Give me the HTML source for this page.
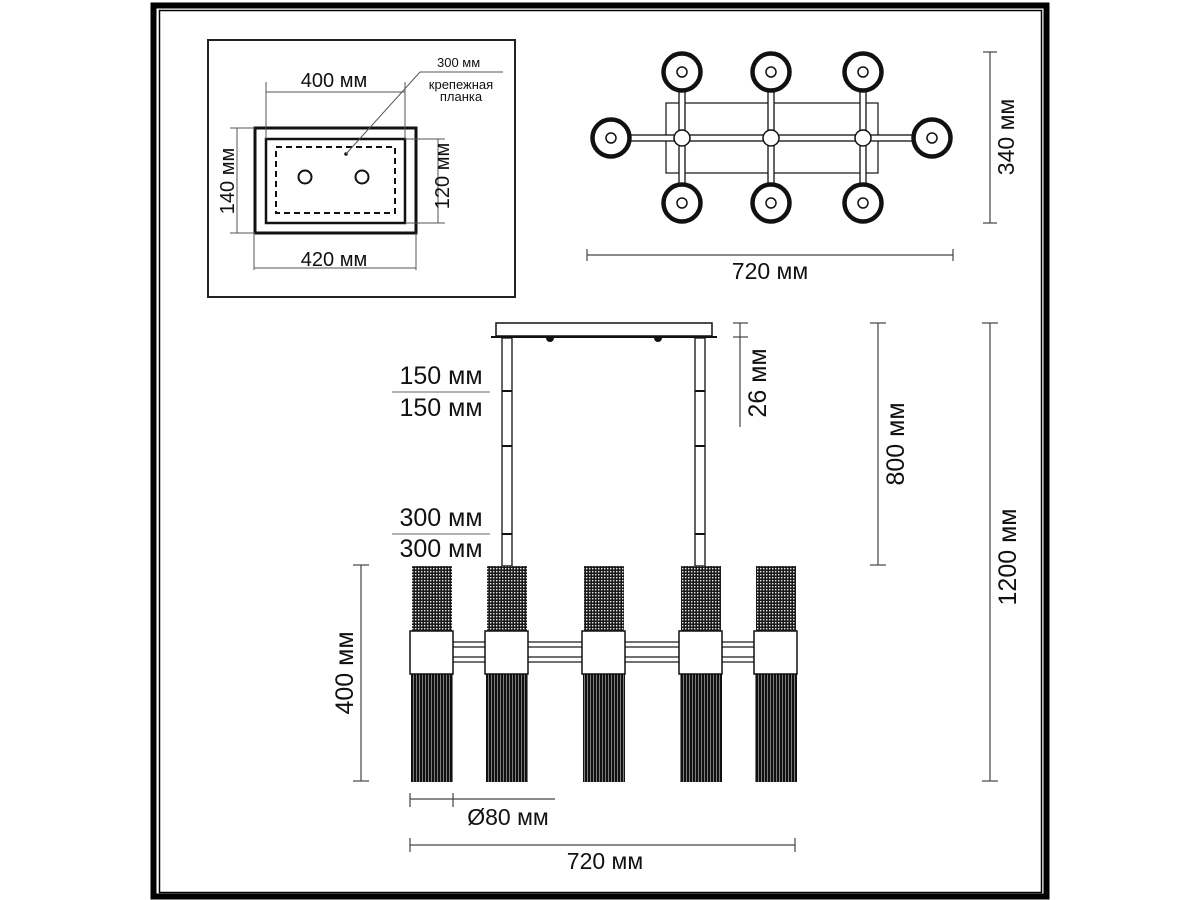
<!DOCTYPE html>
<html><head><meta charset="utf-8"><style>
html,body{margin:0;padding:0;background:#fff}
svg{display:block}
text{font-family:"Liberation Sans",sans-serif;fill:#111}
</style></head><body>
<svg width="1200" height="900" viewBox="0 0 1200 900" xmlns="http://www.w3.org/2000/svg">
<defs>
<pattern id="mesh" width="3" height="3" patternUnits="userSpaceOnUse">
<rect width="3" height="3" fill="#1a1a1a"/><rect x="1" y="1" width="1.4" height="1.4" fill="#e8e8e8"/>
</pattern>
<pattern id="tas" width="3" height="10" patternUnits="userSpaceOnUse">
<rect width="3" height="10" fill="#111"/><rect x="2" width="0.7" height="10" fill="#aaa"/>
</pattern>
</defs>
<!-- frame -->
<rect x="153.5" y="5.5" width="893" height="891" fill="none" stroke="#000" stroke-width="6"/>
<rect x="159.5" y="10.5" width="882" height="882" fill="none" stroke="#000" stroke-width="1.5"/>

<!-- top-left box -->
<rect x="208" y="40" width="307" height="257" fill="none" stroke="#222" stroke-width="2"/>
<rect x="255" y="128" width="161" height="105" fill="none" stroke="#111" stroke-width="3"/>
<rect x="266" y="139" width="139" height="84" fill="none" stroke="#111" stroke-width="2.5"/>
<rect x="276" y="147" width="119" height="66" fill="none" stroke="#111" stroke-width="2" stroke-dasharray="6,4"/>
<circle cx="305" cy="177" r="6.5" fill="none" stroke="#111" stroke-width="2"/>
<circle cx="362" cy="177" r="6.5" fill="none" stroke="#111" stroke-width="2"/>
<circle cx="346" cy="154" r="1.8" fill="#111"/>
<g stroke="#555" stroke-width="1" fill="none">
<polyline points="346,154 420,72 503,72"/>
<line x1="266" y1="82" x2="266" y2="139"/><line x1="405" y1="82" x2="405" y2="139"/>
<line x1="266" y1="92" x2="405" y2="92"/>
<line x1="254" y1="233" x2="254" y2="270"/><line x1="416" y1="233" x2="416" y2="270"/>
<line x1="254" y1="268" x2="416" y2="268"/>
<line x1="230" y1="128" x2="255" y2="128"/><line x1="230" y1="233" x2="255" y2="233"/>
<line x1="237" y1="128" x2="237" y2="233"/>
<line x1="405" y1="139" x2="445" y2="139"/><line x1="405" y1="223" x2="445" y2="223"/>
<line x1="438" y1="139" x2="438" y2="223"/>
</g>
<text x="437" y="67" font-size="13">300 мм</text>
<text x="461" y="89" font-size="13" text-anchor="middle">крепежная</text>
<text x="461" y="101" font-size="13" text-anchor="middle">планка</text>
<text x="334" y="87" font-size="20" text-anchor="middle">400 мм</text>
<text x="334" y="266" font-size="20" text-anchor="middle">420 мм</text>
<text transform="translate(234,181) rotate(-90)" font-size="20" text-anchor="middle">140 мм</text>
<text transform="translate(449,176) rotate(-90)" font-size="20" text-anchor="middle">120 мм</text>

<!-- top view -->
<rect x="666" y="103" width="212" height="70" fill="none" stroke="#222" stroke-width="1.3"/>
<g fill="#fff" stroke="#111" stroke-width="1.3">
<rect x="611" y="135" width="321" height="6"/>
<rect x="679" y="72" width="6" height="131"/>
<rect x="768" y="72" width="6" height="131"/>
<rect x="860" y="72" width="6" height="131"/>
</g>
<g fill="#fff" stroke="#111">
<g stroke-width="4.5">
<circle cx="682" cy="72" r="18.5"/><circle cx="771" cy="72" r="18.5"/><circle cx="863" cy="72" r="18.5"/>
<circle cx="682" cy="203" r="18.5"/><circle cx="771" cy="203" r="18.5"/><circle cx="863" cy="203" r="18.5"/>
<circle cx="611" cy="138" r="18.5"/><circle cx="932" cy="138" r="18.5"/>
</g>
<g stroke="#111" stroke-width="1.5">
<circle cx="682" cy="72" r="5"/><circle cx="771" cy="72" r="5"/><circle cx="863" cy="72" r="5"/>
<circle cx="682" cy="203" r="5"/><circle cx="771" cy="203" r="5"/><circle cx="863" cy="203" r="5"/>
<circle cx="611" cy="138" r="5"/><circle cx="932" cy="138" r="5"/>
<circle cx="682" cy="138" r="8"/><circle cx="771" cy="138" r="8"/><circle cx="863" cy="138" r="8"/>
</g>
</g>
<g stroke="#444" stroke-width="1.2">
<line x1="990" y1="52" x2="990" y2="223"/><line x1="983" y1="52" x2="997" y2="52"/><line x1="983" y1="223" x2="997" y2="223"/>
<line x1="587" y1="255" x2="953" y2="255"/><line x1="587" y1="249" x2="587" y2="261"/><line x1="953" y1="249" x2="953" y2="261"/>
</g>
<text transform="translate(1014,137) rotate(-90)" font-size="23" text-anchor="middle">340 мм</text>
<text x="770" y="279" font-size="23" text-anchor="middle">720 мм</text>

<!-- side view -->
<rect x="496" y="323" width="216" height="13" fill="#fff" stroke="#111" stroke-width="1.5"/>
<line x1="491" y1="337" x2="717" y2="337" stroke="#111" stroke-width="2"/>
<path d="M546,338 a4,4 0 0 0 8,0z M654,338 a4,4 0 0 0 8,0z" fill="#111"/>
<g fill="#fff" stroke="#111" stroke-width="1.3">
<rect x="502" y="338" width="10" height="228"/><rect x="695" y="338" width="10" height="228"/>
</g>
<g stroke="#111" stroke-width="2">
<line x1="502" y1="391" x2="512" y2="391"/><line x1="695" y1="391" x2="705" y2="391"/>
<line x1="502" y1="446" x2="512" y2="446"/><line x1="695" y1="446" x2="705" y2="446"/>
<line x1="502" y1="534" x2="512" y2="534"/><line x1="695" y1="534" x2="705" y2="534"/>
</g>
<g stroke="#666" stroke-width="1">
<line x1="392" y1="392" x2="490" y2="392"/><line x1="392" y1="534" x2="490" y2="534"/>
</g>
<text x="441" y="384" font-size="25" text-anchor="middle">150 мм</text>
<text x="441" y="416" font-size="25" text-anchor="middle">150 мм</text>
<text x="441" y="526" font-size="25" text-anchor="middle">300 мм</text>
<text x="441" y="557" font-size="25" text-anchor="middle">300 мм</text>
<g stroke="#444" stroke-width="1.2">
<line x1="740" y1="323" x2="740" y2="427"/><line x1="733" y1="323" x2="748" y2="323"/><line x1="733" y1="337" x2="748" y2="337"/>
<line x1="878" y1="323" x2="878" y2="565"/><line x1="870" y1="323" x2="886" y2="323"/><line x1="870" y1="565" x2="886" y2="565"/>
<line x1="990" y1="323" x2="990" y2="781"/><line x1="982" y1="323" x2="998" y2="323"/><line x1="982" y1="781" x2="998" y2="781"/>
<line x1="361" y1="565" x2="361" y2="781"/><line x1="353" y1="565" x2="369" y2="565"/><line x1="353" y1="781" x2="369" y2="781"/>
</g>
<text transform="translate(766,383) rotate(-90)" font-size="25" text-anchor="middle">26 мм</text>
<text transform="translate(904,444) rotate(-90)" font-size="25" text-anchor="middle">800 мм</text>
<text transform="translate(1016,557) rotate(-90)" font-size="25" text-anchor="middle">1200 мм</text>
<text transform="translate(353,673) rotate(-90)" font-size="25" text-anchor="middle">400 мм</text>

<!-- bars -->
<g fill="#fff" stroke="#111" stroke-width="1.2">
<rect x="452" y="642" width="304" height="5"/><rect x="452" y="657" width="304" height="5"/>
</g>
<!-- lamps -->
<g>
<rect x="412" y="566" width="40" height="66" fill="url(#mesh)"/>
<rect x="411" y="674" width="42" height="108" fill="url(#tas)"/>
<rect x="410" y="631" width="43" height="43" fill="#fff" stroke="#111" stroke-width="1.5"/>
<rect x="487" y="566" width="40" height="66" fill="url(#mesh)"/>
<rect x="486" y="674" width="42" height="108" fill="url(#tas)"/>
<rect x="485" y="631" width="43" height="43" fill="#fff" stroke="#111" stroke-width="1.5"/>
<rect x="584" y="566" width="40" height="66" fill="url(#mesh)"/>
<rect x="583" y="674" width="42" height="108" fill="url(#tas)"/>
<rect x="582" y="631" width="43" height="43" fill="#fff" stroke="#111" stroke-width="1.5"/>
<rect x="681" y="566" width="40" height="66" fill="url(#mesh)"/>
<rect x="680" y="674" width="42" height="108" fill="url(#tas)"/>
<rect x="679" y="631" width="43" height="43" fill="#fff" stroke="#111" stroke-width="1.5"/>
<rect x="756" y="566" width="40" height="66" fill="url(#mesh)"/>
<rect x="755" y="674" width="42" height="108" fill="url(#tas)"/>
<rect x="754" y="631" width="43" height="43" fill="#fff" stroke="#111" stroke-width="1.5"/>
</g>
<g stroke="#444" stroke-width="1.2">
<line x1="410" y1="799" x2="555" y2="799"/><line x1="410" y1="793" x2="410" y2="807"/><line x1="453" y1="793" x2="453" y2="807"/>
<line x1="410" y1="845" x2="795" y2="845"/><line x1="410" y1="838" x2="410" y2="852"/><line x1="795" y1="838" x2="795" y2="852"/>
</g>
<text x="508" y="825" font-size="23" text-anchor="middle">Ø80 мм</text>
<text x="605" y="869" font-size="23" text-anchor="middle">720 мм</text>
</svg>
</body></html>
